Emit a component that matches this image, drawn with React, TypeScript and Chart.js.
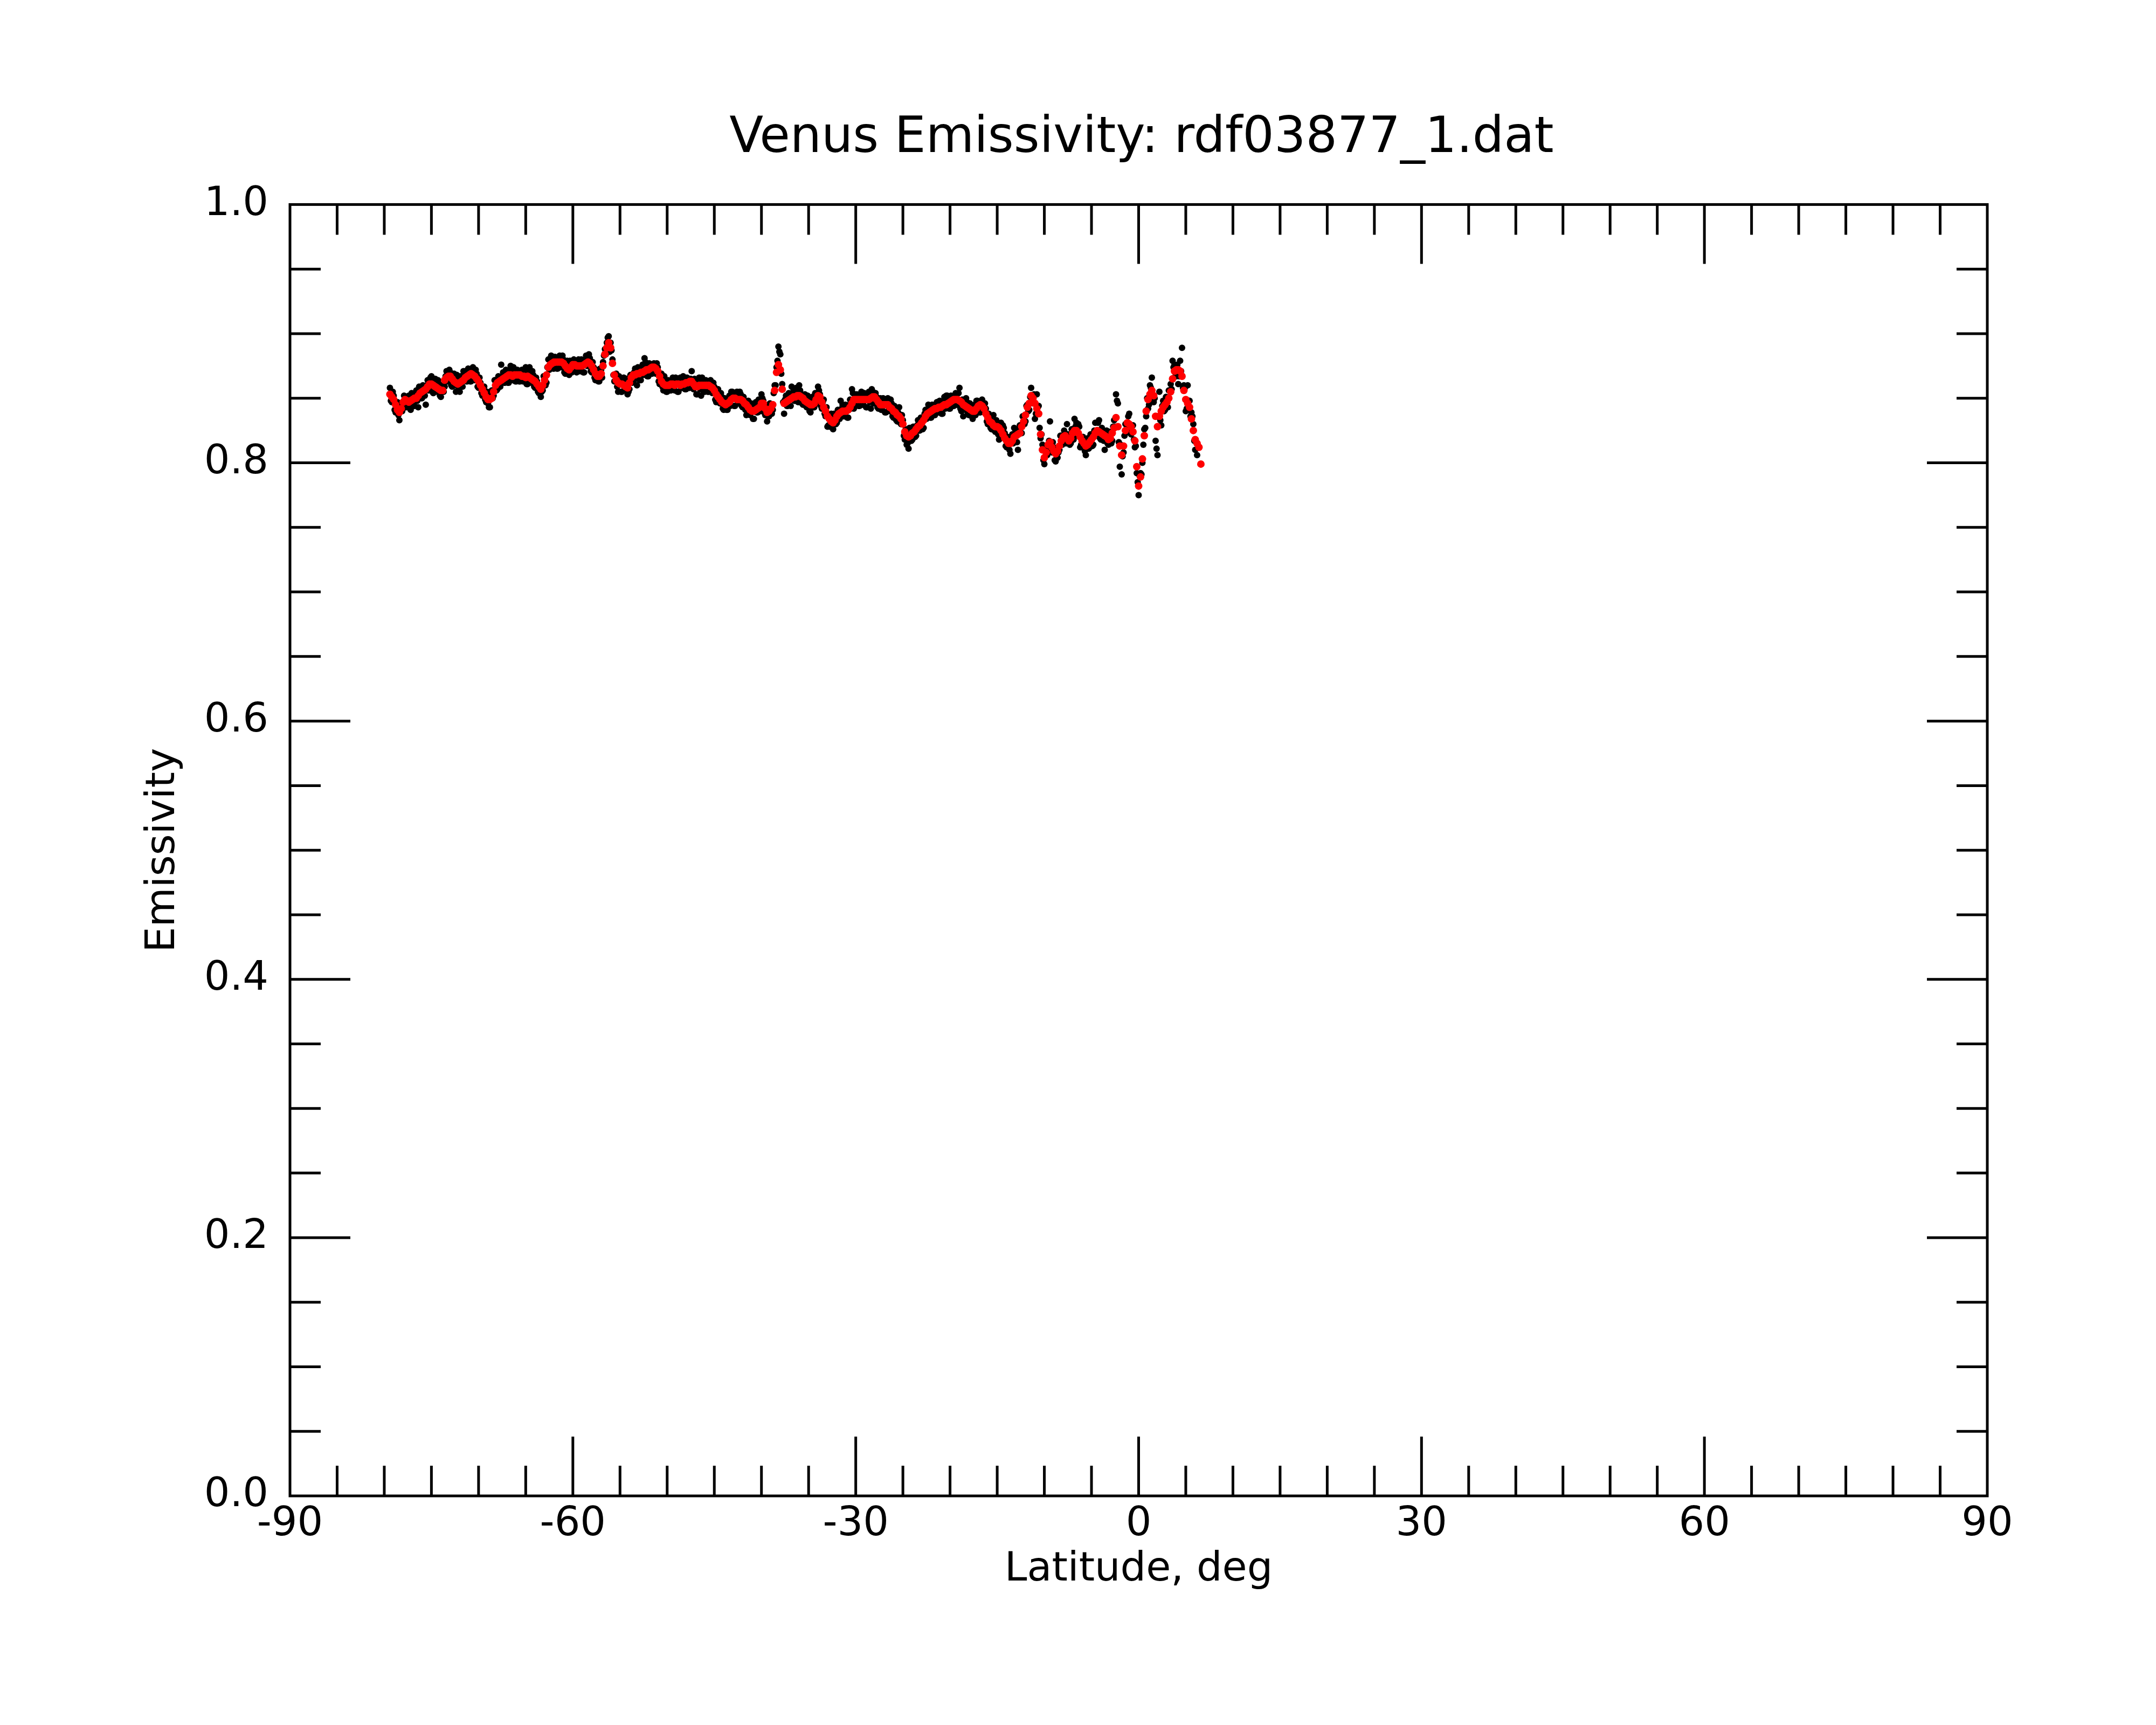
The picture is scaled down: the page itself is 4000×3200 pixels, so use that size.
import { useEffect, useRef } from "react";
import { Chart, ChartConfiguration, Plugin, registerables } from "chart.js";

Chart.register(...registerables);

// latitude grids of the samples (deg)
const latStart = -79.4;
const latStartOffset = -79.3;
const latStep = 0.2;

// smoothed emissivity (red), on the latStart grid
const smoothed = [
  0.853, 0.851, 0.849, 0.845, 0.841, 0.839, 0.842, 0.847, 0.849, 0.848,
  0.847, 0.848, 0.849, 0.850, 0.850, 0.852, 0.854, 0.855, 0.856, 0.857,
  0.859, 0.861, 0.861, 0.860, 0.859, 0.858, 0.857, 0.856, 0.856, 0.864,
  0.866, 0.867, 0.867, 0.865, 0.863, 0.862, 0.861, 0.862, 0.863, 0.864,
  0.866, 0.867, 0.868, 0.869, 0.868, 0.867, 0.865, 0.863, 0.860, 0.857,
  0.854, 0.851, 0.849, 0.849, 0.850, 0.855, 0.860, 0.862, 0.863, 0.864,
  0.865, 0.866, 0.867, 0.868, 0.868, 0.867, 0.868, 0.868, 0.868, 0.868,
  0.867, 0.867, 0.866, 0.867, 0.866, 0.865, 0.864, 0.863, 0.861, 0.859,
  0.857, 0.860, 0.864, 0.868, 0.874, 0.876, 0.877, 0.878, 0.878, 0.878,
  0.878, 0.878, 0.877, 0.875, 0.873, 0.872, 0.874, 0.876, 0.876, 0.875,
  0.875, 0.875, 0.875, 0.876, 0.877, 0.878, 0.877, 0.875, 0.872, 0.869,
  0.867, 0.867, 0.869, 0.875, 0.884, 0.889, 0.893, 0.889, 0.877, 0.868,
  0.864, 0.862, 0.861, 0.861, 0.860, 0.859, 0.858, 0.862, 0.866, 0.868,
  0.868, 0.869, 0.869, 0.870, 0.870, 0.871, 0.872, 0.872, 0.873, 0.874,
  0.874, 0.873, 0.871, 0.867, 0.863, 0.861, 0.860, 0.860, 0.860, 0.861,
  0.861, 0.860, 0.861, 0.861, 0.860, 0.861, 0.861, 0.862, 0.862, 0.863,
  0.863, 0.861, 0.859, 0.859, 0.860, 0.860, 0.860, 0.860, 0.860, 0.860,
  0.859, 0.858, 0.856, 0.853, 0.851, 0.849, 0.847, 0.846, 0.845, 0.846,
  0.847, 0.849, 0.850, 0.850, 0.849, 0.849, 0.849, 0.848, 0.846, 0.845,
  0.843, 0.841, 0.840, 0.840, 0.841, 0.842, 0.843, 0.846, 0.846, 0.842,
  0.839, 0.840, 0.842, 0.845, 0.856, 0.870, 0.876, 0.872, 0.857, 0.846,
  0.847, 0.848, 0.849, 0.850, 0.851, 0.851, 0.852, 0.852, 0.851, 0.850,
  0.848, 0.847, 0.846, 0.845, 0.845, 0.846, 0.849, 0.852, 0.851, 0.847,
  0.843, 0.840, 0.836, 0.834, 0.832, 0.831, 0.833, 0.836, 0.838, 0.839,
  0.840, 0.840, 0.840, 0.841, 0.843, 0.846, 0.849, 0.849, 0.849, 0.849,
  0.849, 0.849, 0.849, 0.849, 0.849, 0.850, 0.851, 0.851, 0.849, 0.847,
  0.845, 0.845, 0.845, 0.845, 0.845, 0.843, 0.842, 0.840, 0.839, 0.837,
  0.836, 0.834, 0.830, 0.824, 0.821, 0.820, 0.821, 0.823, 0.824, 0.826,
  0.828, 0.829, 0.831, 0.833, 0.836, 0.838, 0.839, 0.840, 0.841, 0.842,
  0.842, 0.843, 0.843, 0.844, 0.845, 0.845, 0.846, 0.847, 0.848, 0.849,
  0.849, 0.849, 0.848, 0.847, 0.845, 0.844, 0.843, 0.842, 0.841, 0.840,
  0.840, 0.842, 0.844, 0.845, 0.844, 0.842, 0.838, 0.835, 0.832, 0.831,
  0.829, 0.828, 0.828, 0.827, 0.825, 0.822, 0.819, 0.817, 0.815, 0.815,
  0.817, 0.820, 0.821, 0.822, 0.823, 0.828, 0.832, 0.837, 0.843, 0.846,
  0.852, 0.850, 0.846, 0.842, 0.838, 0.822, 0.810, 0.804, 0.808, 0.814,
  0.816, 0.812, 0.809, 0.807, 0.809, 0.813, 0.817, 0.820, 0.821, 0.819,
  0.817, 0.819, 0.823, 0.825, 0.825, 0.823, 0.820, 0.817, 0.815, 0.813,
  0.814, 0.816, 0.818, 0.820, 0.823, 0.825, 0.824, 0.823, 0.822, 0.821,
  0.820, 0.818, 0.819, 0.823, 0.827, 0.835, 0.828, 0.813, 0.806, 0.813,
  0.825, 0.831, 0.830, 0.828, 0.824, 0.817, 0.797, 0.782, 0.789, 0.803,
  0.821, 0.840, 0.849, 0.853, 0.856, 0.852, 0.836, 0.828, 0.836, 0.840,
  0.843, 0.845, 0.847, 0.850, 0.855, 0.865, 0.871, 0.872, 0.872, 0.871,
  0.867, 0.856, 0.849, 0.846, 0.843, 0.834, 0.825, 0.818, 0.815, 0.812, 0.799,
];

// raw emissivity (black), on the latStart grid
const raw = [
  0.858, 0.847, 0.852, 0.839, 0.847, 0.833, 0.846, 0.842, 0.851, 0.843,
  0.852, 0.841, 0.852, 0.844, 0.856, 0.843, 0.858, 0.850, 0.858, 0.845,
  0.864, 0.857, 0.867, 0.854, 0.865, 0.855, 0.861, 0.851, 0.858, 0.859,
  0.871, 0.863, 0.870, 0.859, 0.869, 0.855, 0.865, 0.855, 0.865, 0.871,
  0.871, 0.863, 0.871, 0.863, 0.874, 0.864, 0.869, 0.858, 0.862, 0.852,
  0.859, 0.847, 0.846, 0.843, 0.856, 0.852, 0.864, 0.857, 0.865, 0.876,
  0.870, 0.862, 0.870, 0.862, 0.875, 0.864, 0.872, 0.863, 0.870, 0.863,
  0.872, 0.863, 0.874, 0.861, 0.874, 0.862, 0.868, 0.858, 0.863, 0.854,
  0.851, 0.856, 0.867, 0.862, 0.880, 0.873, 0.882, 0.873, 0.880, 0.873,
  0.883, 0.874, 0.880, 0.869, 0.879, 0.868, 0.878, 0.871, 0.878, 0.870,
  0.880, 0.871, 0.878, 0.870, 0.883, 0.875, 0.881, 0.870, 0.874, 0.864,
  0.872, 0.863, 0.872, 0.878, 0.888, 0.893, 0.898, 0.893, 0.880, 0.863,
  0.869, 0.855, 0.864, 0.855, 0.866, 0.856, 0.853, 0.857, 0.868, 0.863,
  0.873, 0.860, 0.872, 0.864, 0.876, 0.881, 0.876, 0.867, 0.875, 0.869,
  0.877, 0.869, 0.874, 0.861, 0.869, 0.856, 0.864, 0.855, 0.862, 0.856,
  0.866, 0.856, 0.864, 0.855, 0.866, 0.858, 0.865, 0.857, 0.864, 0.858,
  0.871, 0.857, 0.862, 0.853, 0.866, 0.852, 0.864, 0.855, 0.862, 0.855,
  0.864, 0.854, 0.859, 0.847, 0.857, 0.846, 0.851, 0.841, 0.847, 0.841,
  0.852, 0.855, 0.853, 0.844, 0.855, 0.846, 0.853, 0.843, 0.848, 0.837,
  0.848, 0.837, 0.843, 0.834, 0.847, 0.839, 0.847, 0.853, 0.848, 0.837,
  0.832, 0.836, 0.845, 0.841, 0.860, 0.874, 0.890, 0.884, 0.861, 0.838,
  0.852, 0.844, 0.852, 0.859, 0.857, 0.848, 0.856, 0.860, 0.853, 0.845,
  0.853, 0.843, 0.849, 0.839, 0.851, 0.843, 0.853, 0.859, 0.853, 0.842,
  0.849, 0.836, 0.828, 0.828, 0.838, 0.826, 0.837, 0.831, 0.840, 0.848,
  0.845, 0.836, 0.843, 0.835, 0.849, 0.857, 0.842, 0.844, 0.851, 0.844,
  0.855, 0.845, 0.852, 0.843, 0.855, 0.842, 0.855, 0.846, 0.851, 0.842,
  0.850, 0.841, 0.848, 0.839, 0.850, 0.840, 0.846, 0.835, 0.841, 0.832,
  0.843, 0.830, 0.833, 0.818, 0.814, 0.811, 0.825, 0.818, 0.826, 0.821,
  0.833, 0.825, 0.834, 0.827, 0.841, 0.835, 0.843, 0.835, 0.843, 0.837,
  0.847, 0.839, 0.846, 0.838, 0.851, 0.852, 0.850, 0.842, 0.850, 0.844,
  0.854, 0.845, 0.858, 0.840, 0.836, 0.841, 0.847, 0.837, 0.843, 0.834,
  0.845, 0.848, 0.847, 0.839, 0.849, 0.845, 0.842, 0.830, 0.834, 0.826,
  0.837, 0.824, 0.831, 0.818, 0.831, 0.829, 0.823, 0.812, 0.817, 0.807,
  0.822, 0.827, 0.824, 0.810, 0.829, 0.823, 0.836, 0.832, 0.845, 0.841,
  0.858, 0.846, 0.834, 0.853, 0.844, 0.819, 0.814, 0.799, 0.810, 0.809,
  0.832, 0.808, 0.812, 0.801, 0.804, 0.810, 0.821, 0.815, 0.823, 0.830,
  0.822, 0.815, 0.826, 0.834, 0.831, 0.830, 0.812, 0.812, 0.817, 0.806,
  0.819, 0.812, 0.821, 0.814, 0.831, 0.822, 0.833, 0.818, 0.824, 0.810,
  0.825, 0.814, 0.822, 0.817, 0.833, 0.853, 0.846, 0.797, 0.791, 0.808,
  0.830, 0.827, 0.838, 0.822, 0.829, 0.812, 0.792, 0.775, 0.792, 0.800,
  0.826, 0.836, 0.842, 0.860, 0.866, 0.847, 0.817, 0.806, 0.855, 0.829,
  0.848, 0.841, 0.850, 0.856, 0.861, 0.879, 0.876, 0.867, 0.861, 0.879,
  0.889, 0.860, 0.840, 0.860, 0.848, 0.839, 0.830, 0.810, 0.806,
];

// raw emissivity (black), on the latStartOffset grid
const rawOffset = [
  0.848, 0.855, 0.841, 0.846, 0.837, 0.846, 0.840, 0.852, 0.844, 0.850,
  0.844, 0.854, 0.844, 0.853, 0.848, 0.859, 0.850, 0.860, 0.852, 0.860,
  0.856, 0.866, 0.855, 0.863, 0.856, 0.864, 0.852, 0.860, 0.855, 0.867,
  0.863, 0.872, 0.860, 0.867, 0.860, 0.868, 0.857, 0.867, 0.859, 0.867,
  0.863, 0.873, 0.863, 0.872, 0.865, 0.872, 0.859, 0.866, 0.854, 0.858,
  0.849, 0.855, 0.843, 0.853, 0.850, 0.864, 0.856, 0.867, 0.859, 0.867,
  0.862, 0.872, 0.862, 0.871, 0.865, 0.874, 0.863, 0.872, 0.863, 0.870,
  0.863, 0.872, 0.861, 0.870, 0.863, 0.871, 0.859, 0.866, 0.855, 0.860,
  0.855, 0.867, 0.860, 0.874, 0.872, 0.883, 0.873, 0.882, 0.873, 0.880,
  0.874, 0.883, 0.870, 0.877, 0.870, 0.879, 0.870, 0.880, 0.871, 0.877,
  0.871, 0.880, 0.870, 0.880, 0.875, 0.884, 0.871, 0.878, 0.866, 0.870,
  0.863, 0.873, 0.866, 0.883, 0.884, 0.897, 0.886, 0.887, 0.868, 0.868,
  0.859, 0.867, 0.855, 0.864, 0.857, 0.865, 0.855, 0.868, 0.862, 0.870,
  0.865, 0.874, 0.864, 0.873, 0.868, 0.878, 0.867, 0.877, 0.869, 0.876,
  0.870, 0.877, 0.863, 0.868, 0.859, 0.867, 0.855, 0.864, 0.856, 0.863,
  0.857, 0.866, 0.855, 0.864, 0.858, 0.867, 0.857, 0.866, 0.858, 0.865,
  0.858, 0.865, 0.853, 0.863, 0.857, 0.866, 0.855, 0.864, 0.855, 0.862,
  0.855, 0.862, 0.849, 0.855, 0.847, 0.854, 0.842, 0.850, 0.841, 0.849,
  0.844, 0.855, 0.844, 0.853, 0.846, 0.855, 0.844, 0.851, 0.841, 0.846,
  0.838, 0.846, 0.834, 0.844, 0.839, 0.849, 0.840, 0.850, 0.839, 0.843,
  0.836, 0.846, 0.838, 0.854, 0.860, 0.879, 0.886, 0.869, 0.847, 0.849,
  0.844, 0.854, 0.844, 0.854, 0.848, 0.858, 0.847, 0.856, 0.846, 0.851,
  0.844, 0.852, 0.840, 0.848, 0.843, 0.854, 0.846, 0.856, 0.844, 0.847,
  0.838, 0.843, 0.829, 0.836, 0.829, 0.838, 0.830, 0.841, 0.834, 0.842,
  0.836, 0.845, 0.835, 0.845, 0.842, 0.854, 0.844, 0.853, 0.844, 0.851,
  0.845, 0.854, 0.843, 0.852, 0.847, 0.857, 0.846, 0.854, 0.843, 0.848,
  0.841, 0.850, 0.839, 0.848, 0.841, 0.849, 0.836, 0.844, 0.833, 0.839,
  0.831, 0.837, 0.821, 0.826, 0.815, 0.827, 0.817, 0.828, 0.820, 0.829,
  0.825, 0.835, 0.826, 0.838, 0.834, 0.845, 0.835, 0.845, 0.837, 0.844,
  0.839, 0.848, 0.838, 0.848, 0.842, 0.852, 0.842, 0.852, 0.844, 0.851,
  0.845, 0.854, 0.842, 0.849, 0.842, 0.850, 0.838, 0.846, 0.836, 0.842,
  0.837, 0.848, 0.839, 0.848, 0.840, 0.846, 0.832, 0.838, 0.827, 0.832,
  0.825, 0.833, 0.822, 0.829, 0.821, 0.827, 0.813, 0.820, 0.810, 0.818,
  0.815, 0.826, 0.816, 0.826, 0.823, 0.836, 0.830, 0.844, 0.840, 0.851,
  0.847, 0.853, 0.838, 0.843, 0.827, 0.822, 0.802, 0.810, 0.806, 0.817,
  0.810, 0.816, 0.802, 0.811, 0.808, 0.821, 0.814, 0.825, 0.815, 0.820,
  0.814, 0.826, 0.818, 0.828, 0.821, 0.828, 0.814, 0.820, 0.809, 0.816,
  0.811, 0.822, 0.813, 0.825, 0.821, 0.831, 0.819, 0.827, 0.817, 0.823,
  0.815, 0.824, 0.815, 0.828, 0.828, 0.848, 0.816, 0.814, 0.805, 0.821,
  0.824, 0.836, 0.823, 0.829, 0.818, 0.813, 0.785, 0.790, 0.791, 0.814,
  0.827, 0.850, 0.845, 0.858, 0.851, 0.850, 0.811, 0.836, 0.833, 0.844,
  0.840, 0.851, 0.843, 0.856, 0.857, 0.874, 0.867, 0.876, 0.867, 0.871,
  0.858, 0.858, 0.842, 0.848, 0.836, 0.836, 0.817, 0.816,
];

// axis ticks
const xLabelTicks = [-90, -60, -30, 0, 30, 60, 90];
const xMinorStep = 5;
const yLabelTicks = [0, 0.2, 0.4, 0.6, 0.8, 1.0];
const yMinorStep = 0.05;

const FONT = "DejaVu Sans";

const toPoints = (vals: number[], start: number) =>
  vals.map((v, i) => ({ x: +(start + i * latStep).toFixed(1), y: v }));

// inward ticks on all four sides plus the box
const frameTicks: Plugin = {
  id: "frameTicks",
  afterDraw(chart) {
    const { ctx, chartArea } = chart;
    const { left, right, top, bottom } = chartArea;
    const xs = chart.scales.x;
    const ys = chart.scales.y;
    ctx.save();
    ctx.strokeStyle = "#000";
    ctx.lineWidth = 5;
    ctx.beginPath();
    for (let v = -90 + xMinorStep; v < 90; v += xMinorStep) {
      const px = xs.getPixelForValue(v);
      const len = xLabelTicks.includes(v) ? 110 : 56;
      ctx.moveTo(px, bottom);
      ctx.lineTo(px, bottom - len);
      ctx.moveTo(px, top);
      ctx.lineTo(px, top + len);
    }
    for (let k = 1; k < 20; k++) {
      const v = +(k * yMinorStep).toFixed(2);
      const py = ys.getPixelForValue(v);
      const len = yLabelTicks.some((t) => Math.abs(t - v) < 1e-6) ? 112 : 57;
      ctx.moveTo(left, py);
      ctx.lineTo(left + len, py);
      ctx.moveTo(right, py);
      ctx.lineTo(right - len, py);
    }
    ctx.stroke();
    ctx.strokeRect(left, top, right - left, bottom - top);
    ctx.restore();
  },
};

export default function App() {
  const canvasRef = useRef<HTMLCanvasElement | null>(null);

  useEffect(() => {
    if (!canvasRef.current) return;
    const config: ChartConfiguration = {
      type: "scatter",
      data: {
        datasets: [
          {
            label: "smoothed",
            data: toPoints(smoothed, latStart),
            backgroundColor: "#ff0000",
            borderWidth: 0,
            pointRadius: 7,
            showLine: false,
          },
          {
            label: "raw",
            data: [...toPoints(raw, latStart), ...toPoints(rawOffset, latStartOffset)],
            backgroundColor: "#000000",
            borderWidth: 0,
            pointRadius: 6,
            showLine: false,
          },
        ],
      },
      options: {
        animation: false,
        responsive: false,
        devicePixelRatio: 1,
        layout: { padding: { left: 236, right: 0, top: 0, bottom: 0 } },
        plugins: {
          legend: { display: false },
          tooltip: { enabled: false },
          title: {
            display: true,
            text: "Venus Emissivity: rdf03877_1.dat",
            color: "#000",
            font: { family: FONT, size: 92, weight: "normal", lineHeight: 1.2 },
            padding: { top: 203, bottom: 66 },
          },
        },
        scales: {
          x: {
            type: "linear",
            min: -90,
            max: 90,
            grid: { display: false, drawTicks: false },
            border: { display: false },
            ticks: {
              stepSize: 30,
              autoSkip: false,
              maxRotation: 0,
              padding: 9,
              color: "#000",
              font: { family: FONT, size: 75 },
              callback: (v) => String(v),
            },
            title: {
              display: true,
              text: "Latitude, deg",
              color: "#000",
              font: { family: FONT, size: 75, lineHeight: 1.2 },
              padding: { top: 0, bottom: 242 },
            },
            afterFit: (scale) => {
              scale.height = 425;
            },
          },
          y: {
            type: "linear",
            min: 0,
            max: 1,
            grid: { display: false, drawTicks: false },
            border: { display: false },
            ticks: {
              stepSize: 0.2,
              padding: 40,
              color: "#000",
              font: { family: FONT, size: 75 },
              callback: (v) => Number(v).toFixed(1),
            },
            title: {
              display: true,
              text: "Emissivity",
              color: "#000",
              font: { family: FONT, size: 75, lineHeight: 1.2 },
              padding: { top: 23, bottom: 0 },
            },
            afterFit: (scale) => {
              scale.width = 302;
            },
          },
          // empty right-hand margin so the frame ends where the reference does
          yRight: {
            type: "linear",
            position: "right",
            min: 0,
            max: 1,
            grid: { display: false, drawTicks: false },
            border: { display: false },
            ticks: { display: false },
            afterFit: (scale) => {
              scale.width = 313;
            },
          },
        },
      },
      plugins: [frameTicks],
    };
    const chart = new Chart(canvasRef.current, config);
    return () => {
      chart.destroy();
    };
  }, []);

  return (
    <div style={{ position: "absolute", left: 0, top: 0, width: 4000, height: 3200, background: "#fff" }}>
      <canvas ref={canvasRef} width={4000} height={3200} style={{ width: 4000, height: 3200 }}></canvas>
    </div>
  );
}
